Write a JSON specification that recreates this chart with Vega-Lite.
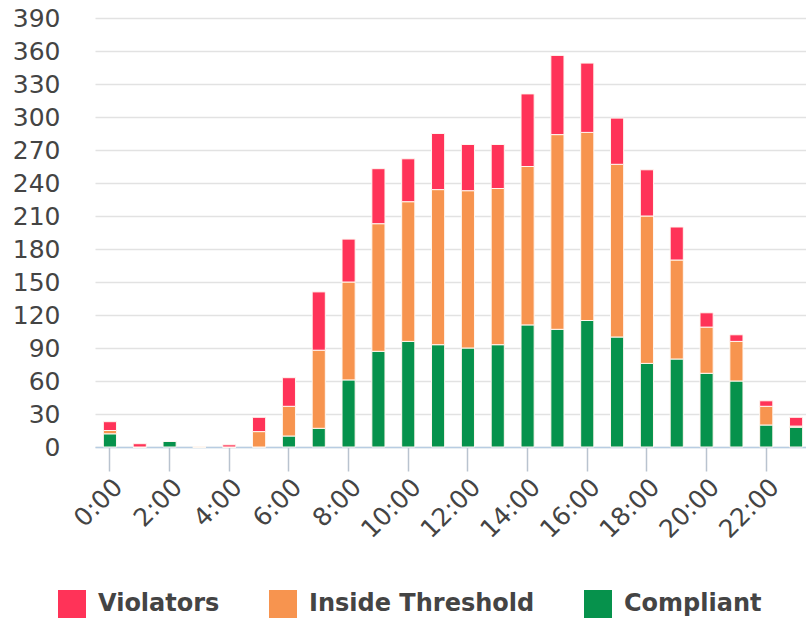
{
  "$schema": "https://vega.github.io/schema/vega-lite/v6.json",
  "autosize": "none",
  "padding": {"left": 95, "top": 18, "right": 0, "bottom": 172},
  "width": 716,
  "height": 429,
  "background": "white",
  "config": {"font": "DejaVu Sans", "view": {"stroke": null}},
  "data": {"values": [
    {"hour": "0:00", "Compliant": 12, "Inside Threshold": 3, "Violators": 8},
    {"hour": "1:00", "Compliant": 0, "Inside Threshold": 0, "Violators": 3},
    {"hour": "2:00", "Compliant": 5, "Inside Threshold": 0, "Violators": 0},
    {"hour": "3:00", "Compliant": 0, "Inside Threshold": 0, "Violators": 0},
    {"hour": "4:00", "Compliant": 0, "Inside Threshold": 0, "Violators": 2},
    {"hour": "5:00", "Compliant": 0, "Inside Threshold": 14, "Violators": 13},
    {"hour": "6:00", "Compliant": 10, "Inside Threshold": 27, "Violators": 26},
    {"hour": "7:00", "Compliant": 17, "Inside Threshold": 71, "Violators": 53},
    {"hour": "8:00", "Compliant": 61, "Inside Threshold": 89, "Violators": 39},
    {"hour": "9:00", "Compliant": 87, "Inside Threshold": 116, "Violators": 50},
    {"hour": "10:00", "Compliant": 96, "Inside Threshold": 127, "Violators": 39},
    {"hour": "11:00", "Compliant": 93, "Inside Threshold": 141, "Violators": 51},
    {"hour": "12:00", "Compliant": 90, "Inside Threshold": 143, "Violators": 42},
    {"hour": "13:00", "Compliant": 93, "Inside Threshold": 142, "Violators": 40},
    {"hour": "14:00", "Compliant": 111, "Inside Threshold": 144, "Violators": 66},
    {"hour": "15:00", "Compliant": 107, "Inside Threshold": 177, "Violators": 72},
    {"hour": "16:00", "Compliant": 115, "Inside Threshold": 171, "Violators": 63},
    {"hour": "17:00", "Compliant": 100, "Inside Threshold": 157, "Violators": 42},
    {"hour": "18:00", "Compliant": 76, "Inside Threshold": 134, "Violators": 42},
    {"hour": "19:00", "Compliant": 80, "Inside Threshold": 90, "Violators": 30},
    {"hour": "20:00", "Compliant": 67, "Inside Threshold": 42, "Violators": 13},
    {"hour": "21:00", "Compliant": 60, "Inside Threshold": 36, "Violators": 6},
    {"hour": "22:00", "Compliant": 20, "Inside Threshold": 17, "Violators": 5},
    {"hour": "23:00", "Compliant": 18, "Inside Threshold": 1, "Violators": 8}
  ]},
  "transform": [
    {"fold": ["Compliant", "Inside Threshold", "Violators"], "as": ["category", "count"]}
  ],
  "mark": {"type": "bar", "stroke": "#fff7f0", "strokeWidth": 1},
  "encoding": {
    "x": {
      "field": "hour", "type": "nominal", "sort": null,
      "scale": {"paddingInner": 0.56, "paddingOuter": 0.28},
      "axis": {
        "title": null,
        "values": ["0:00", "2:00", "4:00", "6:00", "8:00", "10:00", "12:00", "14:00", "16:00", "18:00", "20:00", "22:00"],
        "labelAngle": -45, "labelFontSize": 25, "labelColor": "#444444",
        "labelPadding": 3,
        "tickSize": 24, "tickColor": "#b9c3cf", "tickWidth": 1.5,
        "domainColor": "#b8cde2", "domainWidth": 1.5,
        "grid": false
      }
    },
    "y": {
      "field": "count", "type": "quantitative", "stack": "zero",
      "scale": {"domain": [0, 390], "nice": false},
      "axis": {
        "title": null,
        "values": [0, 30, 60, 90, 120, 150, 180, 210, 240, 270, 300, 330, 360, 390],
        "labelFontSize": 25, "labelColor": "#444444", "labelPadding": 35,
        "ticks": false, "domain": false,
        "grid": true, "gridColor": "#e2e2e2", "gridWidth": 1.5
      }
    },
    "color": {
      "field": "category", "type": "nominal",
      "scale": {
        "domain": ["Violators", "Inside Threshold", "Compliant"],
        "range": ["#ff3358", "#f7944f", "#06924c"]
      },
      "legend": {
        "title": null,
        "orient": "none",
        "direction": "horizontal",
        "legendX": -37,
        "legendY": 572,
        "symbolType": "square",
        "symbolSize": 784,
        "symbolStrokeWidth": 0,
        "symbolOpacity": 1,
        "labelFontSize": 24,
        "labelFontWeight": "bold",
        "labelColor": "#444444",
        "labelOffset": 12,
        "labelLimit": 400,
        "columnPadding": 49
      }
    },
    "order": {"field": "category", "sort": "ascending"}
  }
}
